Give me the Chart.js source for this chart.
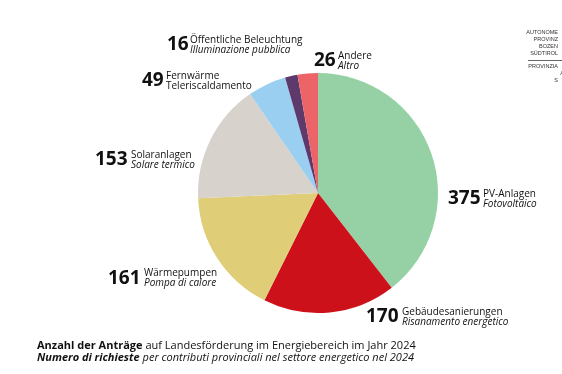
<!DOCTYPE html>
<html>
<head>
<meta charset="utf-8">
<script src="https://cdn.jsdelivr.net/npm/chart.js@4"></script>
<style>
  html, body { margin: 0; padding: 0; background: #fff; }
  #wrap { position: relative; width: 562px; height: 374px; overflow: hidden; font-family: "Open Sans", sans-serif; color: #111; }
  #chart { position: absolute; left: 0; top: 0; }
  .num { position: absolute; font-weight: 700; font-size: 19px; line-height: 19px; white-space: nowrap; }
  .txt { position: absolute; font-size: 10px; line-height: 10px; white-space: nowrap; }
  .txt i { font-style: italic; }
  #title { position: absolute; left: 37px; top: 339px; font-size: 11px; line-height: 12px; white-space: nowrap; }
  #logo { position: absolute; right: 4px; top: 29px; font-family: "Liberation Sans", Arial, sans-serif; font-size: 5.5px; line-height: 7px; text-align: right; color: #333; }
  #logo .rule { border-top: 0.8px solid #666; margin: 3px -6px 2px 0; width: 36px; margin-left: auto; }
</style>
</head>
<body>
<div id="wrap">
  <canvas id="chart" width="562" height="374"></canvas>
  <div id="labels"></div>
  <div id="title"><b>Anzahl der Anträge</b> auf Landesförderung im Energiebereich im Jahr 2024<br><b><i>Numero di richieste</i></b> <i>per contributi provinciali nel settore energetico nel 2024</i></div>
  <div id="logo">AUTONOME<br>PROVINZ<br>BOZEN<br>SÜDTIROL<div class="rule"></div><span style="margin-right:-6px">PROVINZIA A</span><br>S</div>
</div>
<script>
// ---- data ----
const categoriesDE = ["PV-Anlagen", "Gebäudesanierungen", "Wärmepumpen", "Solaranlagen", "Fernwärme", "Öffentliche Beleuchtung", "Andere"];
const categoriesIT = ["Fotovoltaico", "Risanamento energetico", "Pompa di calore", "Solare termico", "Teleriscaldamento", "Illuminazione pubblica", "Altro"];
const requests = [375, 170, 161, 153, 49, 16, 26];
const italicIT = [true, true, true, true, false, true, true];

// ---- styles / layout ----
const sliceColors = ["#95d1a5", "#cd111b", "#dfcd77", "#d7d3cc", "#9acff1", "#5e3a6c", "#ec6468"];
// label anchor: [number left, number baseline, text left, text line-2 baseline]
const labelPos = [
  [448, 205, 483, 207],
  [366, 323, 402, 325],
  [108, 285, 144, 286],
  [95, 166, 131, 168],
  [142, 87, 166, 89],
  [167, 51, 190, 53],
  [314, 67, 338, 69]
];

new Chart(document.getElementById('chart'), {
  type: 'pie',
  data: {
    labels: categoriesDE,
    datasets: [{
      data: requests,
      backgroundColor: sliceColors,
      borderWidth: 0
    }]
  },
  options: {
    responsive: false,
    animation: false,
    layout: { padding: { left: 198, right: 124, top: 73, bottom: 61 } },
    plugins: { legend: { display: false }, tooltip: { enabled: false } }
  }
});

// text labels (HTML)
const holder = document.getElementById('labels');
const NUM_FS = 19, TXT_FS = 10, TXT_LH = 10;
requests.forEach((v, i) => {
  const p = labelPos[i];
  const n = document.createElement('div');
  n.className = 'num';
  n.textContent = v;
  n.style.left = p[0] + 'px';
  n.style.top = (p[1] - NUM_FS * 0.888) + 'px';
  holder.appendChild(n);
  const t = document.createElement('div');
  t.className = 'txt';
  const it = italicIT[i] ? '<i>' + categoriesIT[i] + '</i>' : categoriesIT[i];
  t.innerHTML = categoriesDE[i] + '<br>' + it;
  t.style.left = p[2] + 'px';
  const base2 = TXT_LH + (TXT_LH - 1.362 * TXT_FS) / 2 + 1.069 * TXT_FS;
  t.style.top = (p[3] - base2) + 'px';
  holder.appendChild(t);
});
</script>
</body>
</html>
